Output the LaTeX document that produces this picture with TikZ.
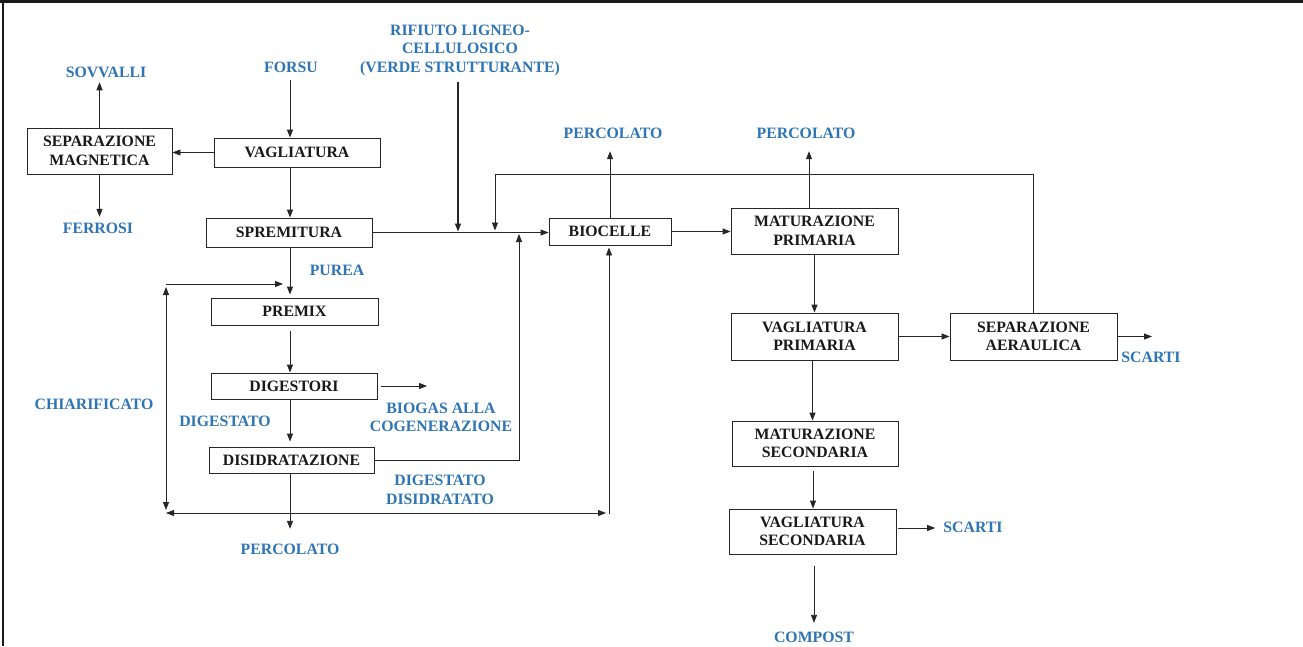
\documentclass[tikz,border=0pt]{standalone}
\usepackage{fontspec}
\setmainfont{Liberation Serif}
\usetikzlibrary{arrows.meta,calc}
\definecolor{lblue}{RGB}{46,117,182}
\begin{document}
\begin{tikzpicture}[x=1pt,y=-1pt,
  box/.style={draw=black!85, line width=0.9pt, rectangle, inner sep=0pt, align=center,
    font=\fontsize{15.8}{18.5}\selectfont\bfseries, text=black!90},
  lbl/.style={inner sep=0pt, align=center, font=\fontsize{15.8}{18.5}\selectfont\bfseries, text=lblue},
  lbl2/.style={lbl, font=\fontsize{15.8}{19.5}\selectfont\bfseries},
  arr/.style={draw=black!85, line width=0.9pt, -{Triangle[length=8pt,width=6pt]}},
  arrb/.style={draw=black!85, line width=0.9pt, {Triangle[length=8pt,width=6pt]}-{Triangle[length=8pt,width=6pt]}},
  frame/.style={draw=black!90, line width=2.5pt}
]
\useasboundingbox (0,0) rectangle (1303,646);
\fill[white] (0,0) rectangle (1303,646);
% frame
\draw[frame] (0,1.25) -- (1303,1.25);
\draw[frame] (3.2,0) -- (3.2,646);

% boxes
\node[box, minimum width=145pt, minimum height=46pt] (sm) at (99.5,151) {SEPARAZIONE\\MAGNETICA};
\node[box, minimum width=166pt, minimum height=29pt] (vag) at (297,152.5) {VAGLIATURA};
\node[box, minimum width=166pt, minimum height=29pt] (spr) at (289,232.5) {SPREMITURA};
\node[box, minimum width=167pt, minimum height=27pt] (pre) at (294.5,311.5) {PREMIX};
\node[box, minimum width=166pt, minimum height=26pt] (dig) at (294,386) {DIGESTORI};
\node[box, minimum width=165pt, minimum height=26pt] (dis) at (291.5,460) {DISIDRATAZIONE};
\node[box, minimum width=122pt, minimum height=27pt] (bio) at (610,231.5) {BIOCELLE};
\node[box, minimum width=167pt, minimum height=46pt] (mp) at (814.5,231) {MATURAZIONE\\PRIMARIA};
\node[box, minimum width=167pt, minimum height=47pt] (vp) at (814.5,336.5) {VAGLIATURA\\PRIMARIA};
\node[box, minimum width=167pt, minimum height=47pt] (sa) at (1033.5,336.5) {SEPARAZIONE\\AERAULICA};
\node[box, minimum width=166pt, minimum height=45pt] (ms) at (815,443.5) {MATURAZIONE\\SECONDARIA};
\node[box, minimum width=167pt, minimum height=45pt] (vs) at (812.5,531.5) {VAGLIATURA\\SECONDARIA};

% labels
\node[lbl] (sovvalli) at (106,72) {SOVVALLI};
\node[lbl] (ferrosi) at (98,228) {FERROSI};
\node[lbl] (forsu) at (291,67) {FORSU};
\node[lbl] (rif) at (460,50) {RIFIUTO LIGNEO-\\CELLULOSICO\\(VERDE STRUTTURANTE)};
\node[lbl] (perc1) at (613,133) {PERCOLATO};
\node[lbl] (perc2) at (806,133) {PERCOLATO};
\node[lbl] (scarti1) at (1151,357) {SCARTI};
\node[lbl] (scarti2) at (973,527) {SCARTI};
\node[lbl] (compost) at (814,637) {COMPOST};
\node[lbl] (purea) at (337,270) {PUREA};
\node[lbl] (chiar) at (94,404) {CHIARIFICATO};
\node[lbl] (digestato) at (225,421) {DIGESTATO};
\node[lbl] (biogas) at (441,417.5) {BIOGAS ALLA\\COGENERAZIONE};
\node[lbl2] (digdis) at (440,490) {DIGESTATO\\DISIDRATATO};
\node[lbl] (perc3) at (290,549) {PERCOLATO};

% helper coordinates
\coordinate (col) at (290,0);
\coordinate (rifx) at (458,0);
\coordinate (fbc) at (495,174);
\coordinate (tipD) at (519,234);
\coordinate (bgt) at (427,386);
\coordinate (botL) at (166,513);
\coordinate (botR) at (606,513);
\coordinate (rv) at (609,514);
\coordinate (lvT) at (166,287);
\coordinate (lvB) at (166,510);
\coordinate (topL) at (166,284);
\coordinate (topR) at (283,284);
\coordinate (sct) at (1152,336.5);

% left column
\draw[arr, shorten <=7pt] (col |- forsu.south) -- (col |- vag.north);
\draw[arr] (col |- vag.south) -- (col |- spr.north);
\draw[arr] (vag.west) -- (vag.west -| sm.east);
\draw[arr, line width=1.1pt] (sm.north) -- ([yshift=-4.7pt]sm.north |- sovvalli.south);
\draw[arr, line width=1.1pt] (sm.south) -- ([yshift=5.7pt]sm.south |- ferrosi.north);
\draw[arr, shorten >=3pt] (col |- spr.south) -- (col |- pre.north);
\draw[arr, shorten <=6pt] (col |- pre.south) -- (col |- dig.north);
\draw[arr, shorten >=5pt] (col |- dig.south) -- (col |- dis.north);
\draw[arr, shorten >=14.7pt] (col |- dis.south) -- (col |- perc3.north);
\draw[arr] ([xshift=4pt]dig.east) -- (bgt);

% chiarificato loop
\draw[arr] (topL) -- (topR);
\draw[arrb] (lvB) -- (lvT);
\draw[arrb] (botL) -- (botR);
\draw[arr, shorten >=2pt] (rv) -- (rv |- bio.south);

% to biocelle
\draw[arr, line width=1.1pt, shorten <=6pt, shorten >=1pt] (rifx |- rif.south) -- (rifx |- spr.east);
\draw[arr] (spr.east) -- (spr.east -| bio.west);
\draw[arr] (sa.north) |- (fbc) -- ([yshift=2pt]fbc |- spr.east);
\draw[arr] (dis.east) -| (tipD);

% right part
\draw[arr, shorten >=12.7pt] (bio.north) -- (bio.north |- perc1.south);
\draw[arr] (bio.east) -- (bio.east -| mp.west);
\draw[arr, shorten >=12.7pt] ([xshift=-5.5pt]mp.north) -- ([xshift=-5.5pt]mp.north |- perc2.south);
\draw[arr] (mp.south) -- (vp.north);
\draw[arr] (vp.east) -- (sa.west);
\draw[arr] (sa.east) -- (sct);
\draw[arr, line width=1.1pt] ([xshift=-2pt]vp.south) -- ([xshift=-2pt]vp.south |- ms.north);
\draw[arr, shorten <=5pt] ([xshift=-2pt]ms.south) -- ([xshift=-2pt]ms.south |- vs.north);
\draw[arr, shorten <=2pt, shorten >=8pt] ([yshift=3.5pt]vs.east) -- ([yshift=3.5pt]vs.east -| scarti2.west);
\draw[arr, shorten <=12pt, shorten >=8.7pt] ([xshift=1.5pt]vs.south) -- ([xshift=1.5pt]vs.south |- compost.north);
\end{tikzpicture}
\end{document}
